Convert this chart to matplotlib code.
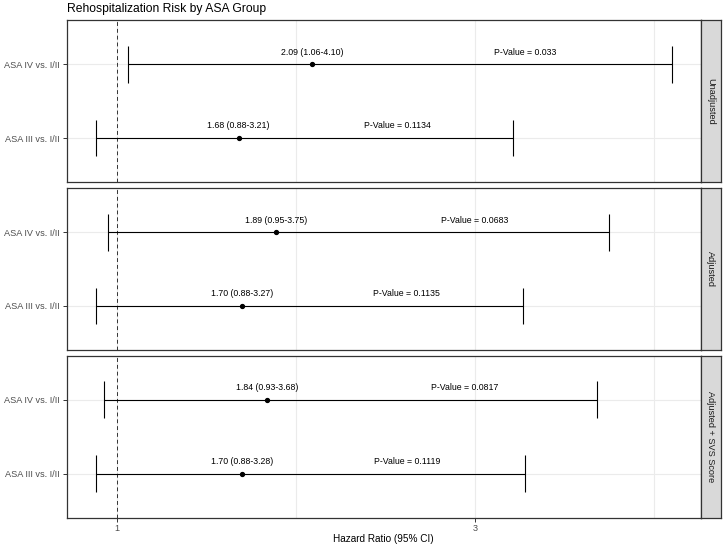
import matplotlib
matplotlib.use("Agg")
import matplotlib.pyplot as plt

plt.rcParams['font.family'] = ['Liberation Sans', 'DejaVu Sans']

comparisons = ["ASA IV vs. I/II", "ASA III vs. I/II"]
models = ["Unadjusted", "Adjusted", "Adjusted + SVS Score"]
hr = [[2.09, 1.68], [1.89, 1.70], [1.84, 1.70]]
lower = [[1.06, 0.88], [0.95, 0.88], [0.93, 0.88]]
upper = [[4.10, 3.21], [3.75, 3.27], [3.68, 3.28]]
pvals = [["0.033", "0.1134"], ["0.0683", "0.1135"], ["0.0817", "0.1119"]]
x_ticks = [1, 3]
x_minor = [2, 4]

W, H = 723, 549
fig = plt.figure(figsize=(W / 100, H / 100), dpi=100)

lo_all = min(min(r) for r in lower)
hi_all = max(max(r) for r in upper)
pad = 0.05 * (hi_all - lo_all)
xlim = (lo_all - pad, hi_all + pad)

left_px, right_px = 66.7, 700.7
panels_px = [(20, 182.3), (188.3, 350), (355.7, 517.7)]
strip_w = 20

grey20 = '#333333'
grey30 = '#4D4D4D'

for i, (top, bot) in enumerate(panels_px):
    ax = fig.add_axes([left_px / W, 1 - bot / H, (right_px - left_px) / W, (bot - top) / H])
    ypos = list(range(len(comparisons)))
    ax.set_xlim(*xlim)
    ax.set_ylim(len(comparisons) - 1 + 0.6, -0.6)
    for gx in x_ticks + x_minor:
        ax.axvline(gx, color='#EBEBEB', lw=0.8, zorder=0)
    for gy in ypos:
        ax.axhline(gy, color='#EBEBEB', lw=0.8, zorder=0)
    ax.axvline(1, color='#333333', lw=0.7, ls=(0, (4, 3)), zorder=1)
    for j, y in enumerate(ypos):
        ax.hlines(y, lower[i][j], upper[i][j], color='black', lw=0.8, zorder=2)
        ax.vlines([lower[i][j], upper[i][j]], y - 0.25, y + 0.25, color='black', lw=0.8, zorder=2)
        ax.plot(hr[i][j], y, 'o', color='black', ms=2.8, zorder=3)
        ax.text(hr[i][j], y - 0.165, f"{hr[i][j]:.2f} ({lower[i][j]:.2f}-{upper[i][j]:.2f})",
                ha='center', va='center', fontsize=6.3, color='black')
        ax.text(upper[i][j] * 0.8, y - 0.165, f"P-Value = {pvals[i][j]}",
                ha='center', va='center', fontsize=6.3, color='black')
    ax.set_yticks(ypos)
    ax.set_yticklabels(comparisons, fontsize=6.6, color=grey30)
    ax.set_xticks(x_ticks)
    ax.tick_params(axis='both', color=grey20, width=0.7, length=2.8, pad=2)
    if i == len(panels_px) - 1:
        ax.set_xticklabels([str(t) for t in x_ticks], fontsize=6.6, color=grey30)
    else:
        ax.set_xticklabels([])
        ax.tick_params(axis='x', length=0)
    for s in ax.spines.values():
        s.set_color(grey20)
        s.set_linewidth(0.9)
    sax = fig.add_axes([right_px / W, 1 - bot / H, strip_w / W, (bot - top) / H])
    sax.set_facecolor('#D9D9D9')
    sax.set_xticks([])
    sax.set_yticks([])
    for s in sax.spines.values():
        s.set_color(grey20)
        s.set_linewidth(0.9)
    sax.text(0.5, 0.5, models[i], rotation=-90, ha='center', va='center',
             fontsize=6.6, color='#1A1A1A', transform=sax.transAxes)

fig.text(left_px / W, 1 - 9 / H, "Rehospitalization Risk by ASA Group",
         ha='left', va='center', fontsize=8.7, color='black')
fig.text((left_px + right_px) / 2 / W, 1 - 539 / H, "Hazard Ratio (95% CI)",
         ha='center', va='center', fontsize=7.2, color='black')

fig.savefig("out.png", dpi=100)
